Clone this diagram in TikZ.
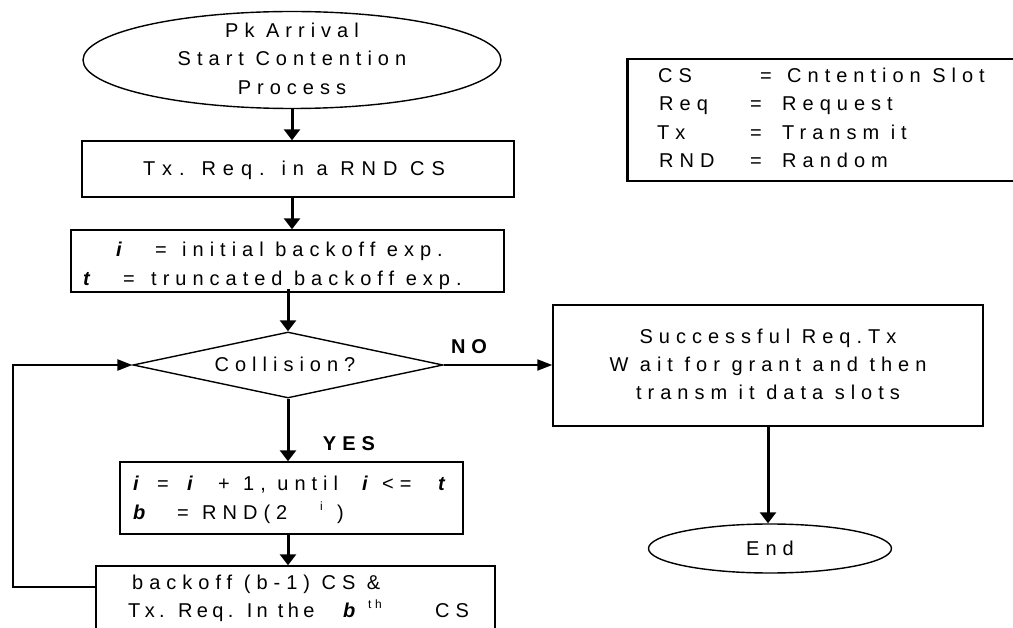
\documentclass[tikz,border=0pt]{standalone}
\usepackage{fontspec}
\setmainfont{Liberation Sans}
\newfontfamily\lsfont[LetterSpace=30]{Liberation Sans}
\usetikzlibrary{shapes.geometric,arrows.meta}

\tikzset{
  boxnode/.style={draw, rectangle, line width=1.4pt, inner sep=0pt},
  ovalnode/.style={draw, ellipse, line width=1.4pt, inner sep=0pt},
  decnode/.style={draw, diamond, line width=1.4pt, inner sep=0pt},
  txt/.style={inner sep=0pt, anchor=base west, font=\lsfont\fontsize{20}{28}\selectfont},
  ctxt/.style={txt, anchor=base},
  var/.style={txt, font=\lsfont\fontsize{20}{28}\selectfont\bfseries\itshape},
  supnode/.style={txt, font=\lsfont\fontsize{12}{12}\selectfont},
  lbl/.style={txt, anchor=base, font=\lsfont\fontsize{20}{28}\selectfont\bfseries},
  arr/.style={line width=3pt, -{Triangle[length=11pt,width=16pt]}},
  harr/.style={line width=2pt, -{Triangle[length=15pt,width=11pt]}},
}

\begin{document}
\begin{tikzpicture}[x=1pt,y=-1pt]
\useasboundingbox (0,0) rectangle (1013,628);
\clip (0,0) rectangle (1013,628);

% shapes
\node[ovalnode, minimum width=418pt, minimum height=97pt] (start) at (292,60) {};
\node[boxnode, minimum width=432pt, minimum height=56pt] (b1) at (298,169) {};
\node[boxnode, minimum width=433pt, minimum height=62pt] (b2) at (287.5,261) {};
\node[decnode, minimum width=310pt, minimum height=66pt] (dia) at (288,365) {};
\node[boxnode, minimum width=343pt, minimum height=72pt] (b3) at (291.5,498) {};
\node[boxnode, minimum width=399pt, minimum height=80pt] (b4) at (295.5,606) {};
\node[boxnode, minimum width=430pt, minimum height=121pt] (ok) at (768,365.5) {};
\node[ovalnode, minimum width=243pt, minimum height=49pt] (end) at (770,548.5) {};
\node[boxnode, minimum width=402pt, minimum height=122pt] (legend) at (829,120) {};
\draw[line width=2.4pt] (legend.north west) -- (legend.south west);

% start ellipse
\node[ctxt] (t1a) at (292,38) {Pk Arrival};
\node[ctxt] (t1b) at (292,66) {Start Contention};
\node[ctxt] (t1c) at (292,95) {Process};

% first request box
\node[ctxt] (t2) at (294,176) {\addfontfeature{LetterSpace=35}Tx. Req. in a RND CS};

% exponent definitions
\node[var] (t3a1) at (116,257) {i};
\node[txt] (t3a2) at (155,257) {=};
\node[txt] (t3a3) at (182,257) {initial backoff exp.};
\node[var] (t3b1) at (83,286) {t};
\node[txt] (t3b2) at (123,286) {=};
\node[txt] (t3b3) at (151,286) {truncated backoff exp.};

% decision
\node[ctxt] (t4) at (285,372) {Collision?};
\node[lbl] (no) at (469,354) {NO};
\node[lbl] (yes) at (349,450) {YES};

% exponent update box
\node[var] (t5a1) at (133,490) {i};
\node[txt] (t5a2) at (157,490) {=};
\node[var] (t5a3) at (187,490) {i};
\node[txt] (t5a4) at (218,490) {+};
\node[txt] (t5a5) at (243,490) {1, until};
\node[var] (t5a6) at (362,490) {i};
\node[txt] (t5a7) at (382,490) {<=};
\node[var] (t5a8) at (438,490) {t};
\node[var] (t5b1) at (133,519) {b};
\node[txt] (t5b2) at (177,519) {=};
\node[txt] (t5b3) at (202,519) {RND(2};
\node[supnode] (t5b4) at (320,510) {i};
\node[txt] (t5b5) at (337,519) {)};

% backoff box
\node[txt] (t6a) at (132,589) {backoff (b-1) CS \&};
\node[txt] (t6b1) at (128,617) {\addfontfeature{LetterSpace=22}Tx. Req. In the};
\node[var] (t6b2) at (343,617) {b};
\node[supnode] (t6b3) at (368,608) {th};
\node[txt] (t6b4) at (435,617) {CS};

% success box and end
\node[ctxt] (t7a) at (768,344) {Successful Req.Tx};
\node[ctxt] (t7b) at (768,372) {W ait for grant and then};
\node[ctxt] (t7c) at (768,400) {transm it data slots};
\node[ctxt] (t8) at (770,555) {End};

% legend
\node[txt] (l1a) at (658,83) {CS};
\node[txt] (l1b) at (760,83) {=};
\node[txt] (l1c) at (787,83) {Cntention Slot};
\node[txt] (l2a) at (659,111) {Req};
\node[txt] (l2b) at (750,111) {=};
\node[txt] (l2c) at (782,111) {Request};
\node[txt] (l3a) at (657,140) {Tx};
\node[txt] (l3b) at (750,140) {=};
\node[txt] (l3c) at (782,140) {Transm it};
\node[txt] (l4a) at (659,168) {RND};
\node[txt] (l4b) at (750,168) {=};
\node[txt] (l4c) at (782,168) {Random};

% connectors
\coordinate (loopin) at (96,587);
\coordinate (loopcorner) at (13,587);
\draw[arr] (start.south) -- (start.south |- b1.north);
\draw[arr] (start.south |- b1.south) -- (start.south |- b2.north);
\draw[arr] ([yshift=4pt]dia.north |- b2.south) -- (dia.north);
\draw[arr] (dia.south) -- (dia.south |- b3.north);
\draw[arr] (dia.south |- b3.south) -- (dia.south |- b4.north);
\draw[harr, line width=2.5pt] (loopin) -- (loopcorner) |- (dia.west);
\draw[harr] (dia.east) -- (ok.west |- dia.east);
\draw[arr] (ok.south) -- (ok.south |- end.north);
\end{tikzpicture}
\end{document}
